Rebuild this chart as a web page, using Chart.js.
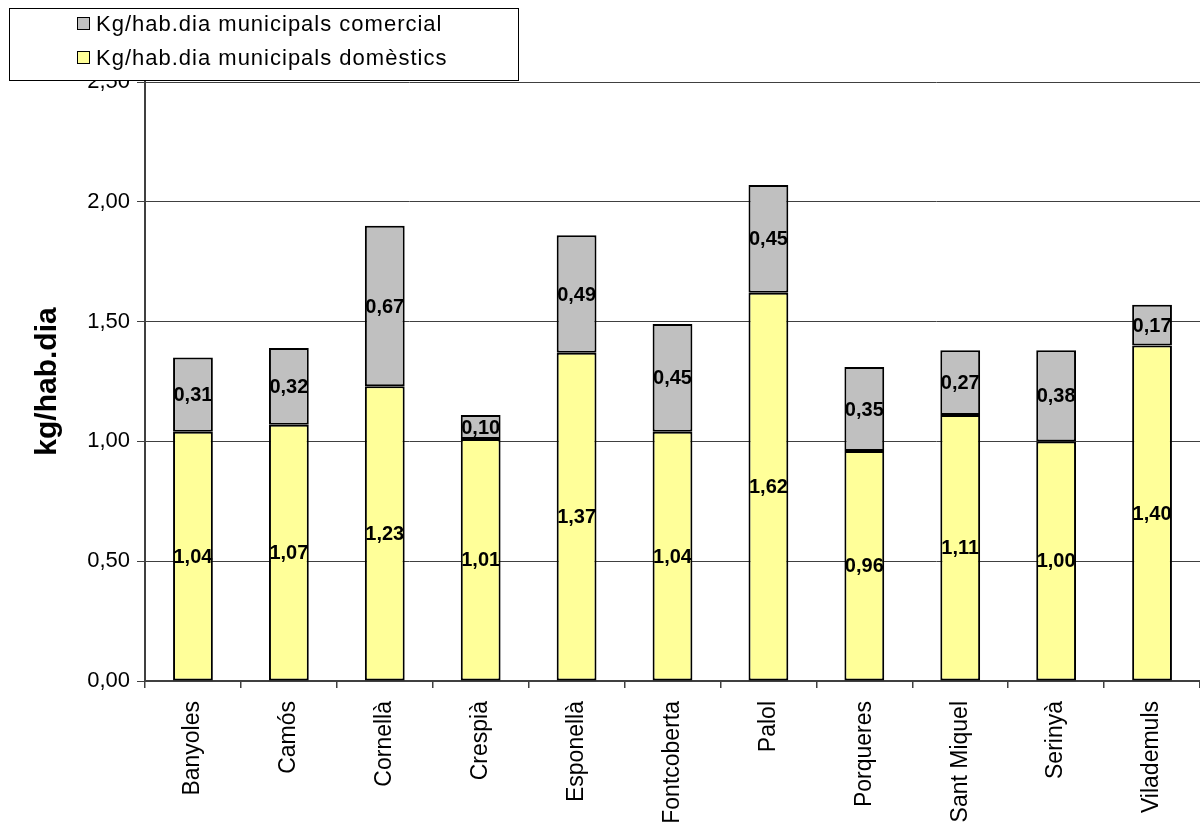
<!DOCTYPE html>
<html>
<head>
<meta charset="utf-8">
<script src="https://cdn.jsdelivr.net/npm/chart.js@4/dist/chart.umd.min.js"></script>
<style>
  html, body { margin: 0; padding: 0; background: #fff; }
  #wrap { width: 1200px; height: 826px; }
</style>
</head>
<body>
<div id="wrap"><canvas id="grafica" width="1200" height="826"></canvas></div>
<script>
// municipis
const municipis = ["Banyoles", "Camós", "Cornellà", "Crespià", "Esponellà", "Fontcoberta",
  "Palol", "Porqueres", "Sant Miquel", "Serinyà", "Vilademuls"];
// kg/hab.dia
const domestics = [1.04, 1.07, 1.23, 1.01, 1.37, 1.04, 1.62, 0.96, 1.11, 1.00, 1.40];
const comercial = [0.31, 0.32, 0.67, 0.10, 0.49, 0.45, 0.45, 0.35, 0.27, 0.38, 0.17];
const ticksY = [0, 0.5, 1, 1.5, 2, 2.5];

const FONT = "'Liberation Sans', Arial, sans-serif";
const coma = v => v.toFixed(2).replace(".", ",");

// valors dins de cada tram
const etiquetesValors = {
  id: "etiquetesValors",
  afterDatasetsDraw(chart) {
    const ctx = chart.ctx;
    ctx.save();
    ctx.font = "bold 20px " + FONT;
    ctx.fillStyle = "#000";
    ctx.textAlign = "center";
    ctx.textBaseline = "middle";
    chart.data.datasets.forEach((ds, i) => {
      chart.getDatasetMeta(i).data.forEach((bar, j) => {
        ctx.fillText(coma(ds.data[j]), bar.x, (bar.y + bar.base) / 2 + 1);
      });
    });
    ctx.restore();
  }
};

// llegenda amb caixa, a dalt a l'esquerra
const llegenda = {
  id: "llegenda",
  afterDraw(chart) {
    const ctx = chart.ctx;
    ctx.save();
    ctx.fillStyle = "#fff";
    ctx.fillRect(9, 8, 509, 72);
    ctx.strokeStyle = "#000";
    ctx.lineWidth = 1;
    ctx.strokeRect(9.5, 8.5, 509, 72);
    const items = chart.data.datasets.slice().reverse();
    ctx.font = "22px " + FONT;
    ctx.letterSpacing = "1px";
    ctx.textBaseline = "middle";
    items.forEach((ds, k) => {
      const y = 24 + k * 34;
      ctx.fillStyle = ds.backgroundColor;
      ctx.fillRect(77, y - 7, 13, 13);
      ctx.strokeStyle = "#000";
      ctx.strokeRect(77.5, y - 6.5, 12, 12);
      ctx.fillStyle = "#000";
      ctx.fillText(ds.label, 96, y + 1);
    });
    ctx.restore();
  }
};

new Chart(document.querySelector("#grafica"), {
  type: "bar",
  data: {
    labels: municipis,
    datasets: [
      {
        label: "Kg/hab.dia municipals domèstics",
        data: domestics,
        backgroundColor: "#FFFF99",
        borderColor: "#000",
        borderWidth: 2,
        borderSkipped: false
      },
      {
        label: "Kg/hab.dia municipals comercial",
        data: comercial,
        backgroundColor: "#C0C0C0",
        borderColor: "#000",
        borderWidth: 2,
        borderSkipped: false
      }
    ]
  },
  options: {
    responsive: false,
    animation: false,
    events: [],
    layout: { padding: { top: 82, right: 0, left: 0, bottom: 0 } },
    datasets: { bar: { categoryPercentage: 1, barPercentage: 0.415 } },
    plugins: { legend: { display: false }, tooltip: { enabled: false } },
    scales: {
      x: {
        stacked: true,
        afterFit(s) { s.height = 145; },
        border: { color: "#404040", width: 2 },
        grid: { drawOnChartArea: false, tickLength: 7, color: "#404040", lineWidth: 1.5 },
        ticks: {
          minRotation: 90, maxRotation: 90, padding: 13,
          color: "#000", font: { family: FONT, size: 23 }
        }
      },
      y: {
        stacked: true,
        min: 0, max: 2.5,
        afterFit(s) { s.width = 145; },
        afterBuildTicks(s) { s.ticks = ticksY.map(v => ({ value: v })); },
        border: { color: "#404040", width: 2 },
        grid: { color: "#404040", lineWidth: 1, tickLength: 8 },
        ticks: {
          padding: 7, color: "#000",
          font: { family: FONT, size: 22 },
          callback: v => coma(v)
        },
        title: {
          display: true, text: "kg/hab.dia", color: "#000",
          font: { family: FONT, size: 30, weight: "bold" },
          padding: { top: 30, bottom: 0 }
        }
      }
    }
  },
  plugins: [etiquetesValors, llegenda]
});
</script>
</body>
</html>
